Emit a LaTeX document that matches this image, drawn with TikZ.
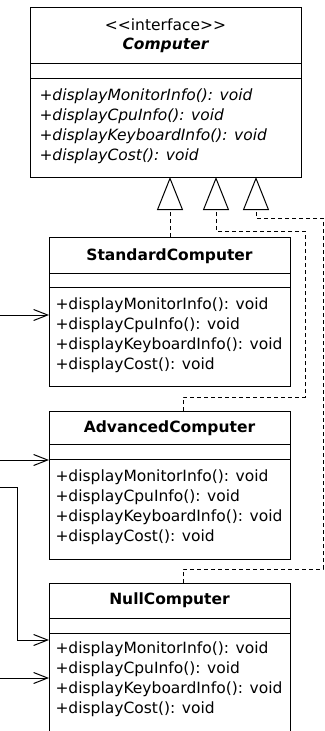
\documentclass[tikz,border=0pt]{standalone}
\usepackage{fontspec}
\setmainfont{DejaVu Sans}
\usetikzlibrary{arrows.meta}
\begin{document}
\begin{tikzpicture}[x=1pt,y=-1pt,line width=1pt,
  classbox/.style={draw, anchor=north west, inner sep=0pt, outer sep=0pt, minimum width=#1},
  txt/.style={anchor=west, inner sep=0pt, font=\fontsize{15.5}{18}\selectfont},
  itxt/.style={txt, font=\fontsize{15.5}{18}\selectfont\itshape},
  ttl/.style={inner sep=0pt, font=\fontsize{15.5}{18}\selectfont\bfseries},
  realize/.style={dash pattern=on 4pt off 3pt, -{Triangle[open, length=33pt, width=26pt]}},
  usearrow/.style={-{Straight Barb[length=14pt, width=11pt]}}
]
\path[use as bounding box, clip] (0,0) rectangle (324,731);
\fill[white] (0,0) rectangle (324,731);

% Computer interface
\node[classbox=271pt, minimum height=170pt] (comp) at (30,7) {};
\draw (30,63) -- (301,63);
\draw (30,78) -- (301,78);
\node[ttl, font=\fontsize{15.5}{18}\selectfont] (compst) at (165.5,25) {<\kern0pt<interface>\kern0pt>};
\node[ttl, font=\fontsize{15.5}{18}\selectfont\bfseries\itshape] (compname) at (165.5,45) {Computer};
\node[itxt] (cm1) at (39,96) {+displayMonitorInfo(): void};
\node[itxt] (cm2) at (39,116) {+displayCpuInfo(): void};
\node[itxt] (cm3) at (39,136) {+displayKeyboardInfo(): void};
\node[itxt] (cm4) at (39,156) {+displayCost(): void};

% StandardComputer
\node[classbox=241pt, minimum height=149pt] (std) at (49,237) {};
\draw (49,273) -- (290,273);
\draw (49,287) -- (290,287);
\node[ttl] (stdname) at (169.5,256) {StandardComputer};
\node[txt] (sm1) at (55,305) {+displayMonitorInfo(): void};
\node[txt] (sm2) at (55,325) {+displayCpuInfo(): void};
\node[txt] (sm3) at (55,345) {+displayKeyboardInfo(): void};
\node[txt] (sm4) at (55,365) {+displayCost(): void};

% AdvancedComputer
\node[classbox=241pt, minimum height=148pt] (adv) at (49,411) {};
\draw (49,444) -- (290,444);
\draw (49,459) -- (290,459);
\node[ttl] (advname) at (169.5,428) {AdvancedComputer};
\node[txt] (am1) at (55,477) {+displayMonitorInfo(): void};
\node[txt] (am2) at (55,497) {+displayCpuInfo(): void};
\node[txt] (am3) at (55,517) {+displayKeyboardInfo(): void};
\node[txt] (am4) at (55,537) {+displayCost(): void};

% NullComputer
\node[classbox=241pt, minimum height=170pt] (null) at (49,583) {};
\draw (49,618) -- (290,618);
\draw (49,633) -- (290,633);
\node[ttl] (nullname) at (169.5,600) {NullComputer};
\node[txt] (nm1) at (55,649) {+displayMonitorInfo(): void};
\node[txt] (nm2) at (55,669) {+displayCpuInfo(): void};
\node[txt] (nm3) at (55,689) {+displayKeyboardInfo(): void};
\node[txt] (nm4) at (55,709) {+displayCost(): void};

% realization connectors
\coordinate (a1) at (170,177);
\coordinate (a2) at (216,177);
\coordinate (a3) at (256,177);
\coordinate (s1) at (170,237);
\coordinate (s2) at (183,411);
\coordinate (s3) at (183,583);
\draw[realize] (s1) -- (a1);
\draw[realize] (s2) -- (183,397) -| (305,231) -| (a2);
\draw[realize] (s3) -- (183,569) -| (323,218) -| (a3);

% incoming associations
\coordinate (u1) at (0,315);
\coordinate (u2) at (0,460);
\coordinate (u3) at (0,487);
\coordinate (u3b) at (17,640);
\coordinate (u4) at (0,678);
\draw[usearrow] (u1) -- (std.west |- u1);
\draw[usearrow] (u2) -- (adv.west |- u2);
\draw[usearrow] (u3) -| (u3b) -- (null.west |- u3b);
\draw[usearrow] (u4) -- (null.west |- u4);
\end{tikzpicture}
\end{document}
